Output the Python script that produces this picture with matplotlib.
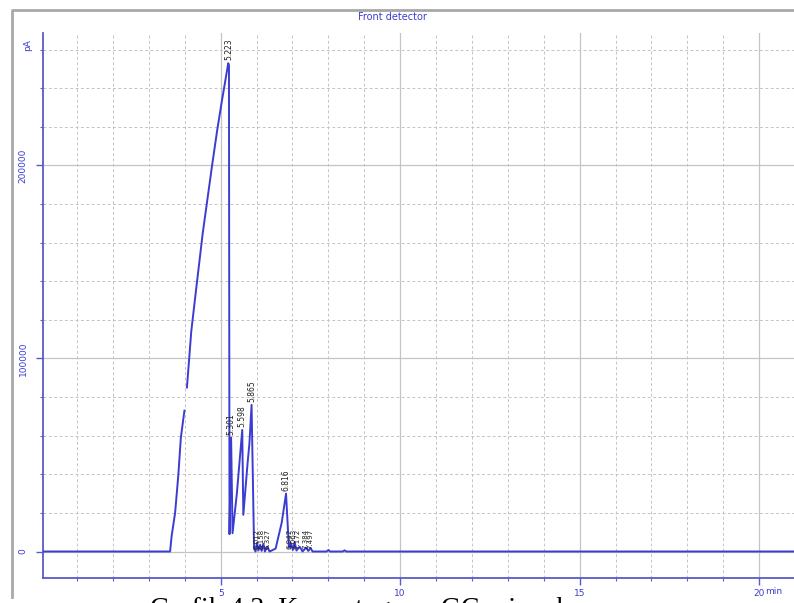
import numpy as np
import matplotlib
matplotlib.use("Agg")
import matplotlib.pyplot as plt
from matplotlib.lines import Line2D
from matplotlib.ticker import MultipleLocator, FixedLocator

# retention time (min) and detector signal (pA); NaN marks the break in the trace
TIME = [0.05, 3.55, 3.59, 3.635, 3.73, 3.82, 3.89, 3.99, 4.02, 4.06, 4.18, 4.31,
        4.50, 4.76, 4.90, 5.02, 5.12, 5.21, 5.23, 5.245, 5.29, 5.33, 5.45, 5.60,
        5.63, 5.75, 5.80, 5.86, 5.93, 5.97, 6.01, 6.05, 6.10, 6.14, 6.19, 6.23,
        6.30, 6.36, 6.53, 6.70, 6.82, 6.90, 6.95, 7.01, 7.06, 7.11, 7.20, 7.28,
        7.38, 7.44, 7.50, 7.56, 7.95, 8.00, 8.05, 8.40, 8.45, 8.50, 20.97]
SIGNAL = [0, 0, 0, 8300, 20000, 39700, 59000, 73000, np.nan, 85000, 114000, 135000,
          165000, 200000, 218000, 232000, 243000, 253000, 252000, 9000, 59000, 9500, 30000, 63000,
          19000, 46000, 56000, 76000, 1500, 0, 4500, 500, 3500, 300, 4000, 0,
          2500, 0, 1500, 15000, 30000, 2000, 4500, 800, 5000, 500, 2500, 0,
          2000, 300, 1800, 0, 0, 800, 0, 0, 600, 0, 0]

# peak annotations: retention time, label height, label text
PEAK_T = [5.22, 5.29, 5.60, 5.86, 5.99, 6.15, 6.31, 6.82, 6.92, 7.03, 7.14, 7.36, 7.50]
PEAK_Y = [253000, 59000, 63000, 76000, 0, 0, 0, 30000, 0, 0, 0, 0, 0]
PEAK_LABELS = ["5.223", "5.301", "5.598", "5.865", "6.012", "6.158", "6.327",
               "6.816", "6.947", "7.063", "7.172", "7.384", "7.497"]

X_TICKS = [5, 10, 15, 20]
Y_TICKS = [0, 100000, 200000]

BLUE = "#3c3cd2"
AXIS_BLUE = "#5a5ac8"
GRID = "#c4c4c4"

W, H = 794, 603
fig = plt.figure(figsize=(W / 100, H / 100), dpi=100)
ax = fig.add_axes([43 / W, 25 / H, (W - 43) / W, 545 / H])

ax.plot(TIME, SIGNAL, color=BLUE, lw=1.4, zorder=3)

ax.set_xlim(0.05, 20.97)
ax.set_ylim(-13730, 268650)

for side in ("top", "right"):
    ax.spines[side].set_visible(False)
for side in ("left", "bottom"):
    ax.spines[side].set_color(AXIS_BLUE)
    ax.spines[side].set_linewidth(1.3)

ax.xaxis.set_major_locator(FixedLocator(X_TICKS))
ax.yaxis.set_major_locator(FixedLocator(Y_TICKS))
ax.xaxis.set_minor_locator(MultipleLocator(1))
ax.yaxis.set_minor_locator(MultipleLocator(20000))
ax.set_xticklabels([str(v) for v in X_TICKS])
ax.set_yticklabels([str(v) for v in Y_TICKS], rotation=90, va="center")

ax.grid(True, which="major", color=GRID, lw=0.9, ls="-", zorder=0)
ax.grid(True, which="minor", color=GRID, lw=0.7, ls=(0, (3, 2.5)), zorder=0)
ax.set_axisbelow(True)

ax.tick_params(which="major", colors=AXIS_BLUE, labelcolor=BLUE, labelsize=6.5,
               length=5, width=1)
ax.tick_params(which="minor", colors=AXIS_BLUE, length=2, width=0.8)
ax.tick_params(axis="y", which="major", pad=6)
ax.tick_params(axis="x", which="major", pad=3)

# retention-time labels above each peak
for t, y, lab in zip(PEAK_T, PEAK_Y, PEAK_LABELS):
    ax.text(t, y + 1500, lab, rotation=90, ha="center", va="bottom",
            fontsize=5.5 if y > 0 else 5, color="#202020", zorder=4)

fig.text(765 / W, 1 - 592 / H, "min", color=BLUE, fontsize=6.5, va="center", ha="left")
fig.text(28 / W, 1 - 45 / H, "pA", color=BLUE, fontsize=6.5, rotation=90,
         ha="center", va="center")
fig.text(392 / W, 1 - 17 / H, "Front detector", color=BLUE, fontsize=7,
         ha="center", va="center")

# outer window frame
fig.add_artist(Line2D([12 / W, 12 / W, 1.0], [1 - 597 / H, 1 - 10 / H, 1 - 10 / H],
                      transform=fig.transFigure, color="#a8a8a8", lw=2))

fig.text(150 / W, 1 - 597 / H, "Grafik 4.3. Kromatogram GC minyak", fontsize=20,
         family="Liberation Serif", color="black", ha="left", va="top")

fig.savefig("out.png", dpi=100)
